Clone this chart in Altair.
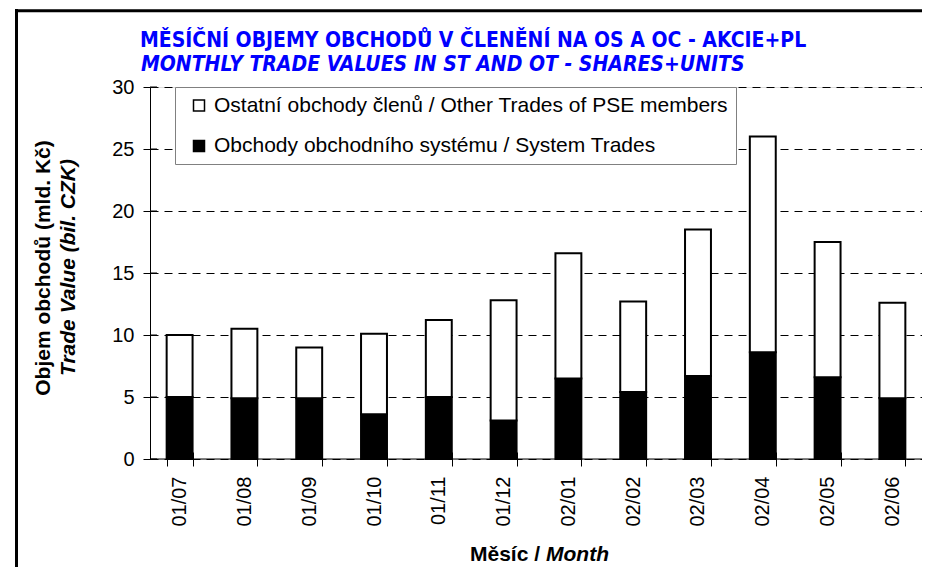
import altair as alt
import pandas as pd

# ---------------- data ----------------
months = ["01/07", "01/08", "01/09", "01/10", "01/11", "01/12",
          "02/01", "02/02", "02/03", "02/04", "02/05", "02/06"]
system_trades = [5.0, 4.9, 4.9, 3.6, 5.0, 3.1, 6.5, 5.4, 6.7, 8.6, 6.6, 4.9]
other_trades = [5.0, 5.6, 4.1, 6.5, 6.2, 9.7, 10.1, 7.3, 11.8, 17.4, 10.9, 7.7]
series_names = ["Ostatní obchody členů / Other Trades of PSE members",
                "Obchody obchodního systému / System Trades"]
series_colors = ["white", "black"]
y_ticks = [0, 5, 10, 15, 20, 25, 30]

title_cz = "MĚSÍČNÍ OBJEMY OBCHODŮ V ČLENĚNÍ NA OS A OC - AKCIE+PL"
title_en = "MONTHLY TRADE VALUES IN ST AND OT - SHARES+UNITS"
ytitle_cz = "Objem obchodů (mld. Kč)"
ytitle_en = "Trade Value (bil. CZK)"
xtitle_cz = "Měsíc /"
xtitle_en = "Month"

rows = []
for m, s, o in zip(months, system_trades, other_trades):
    rows.append({"month": m, "series": series_names[1], "value": s, "ord": 0})
    rows.append({"month": m, "series": series_names[0], "value": o, "ord": 1})
df = pd.DataFrame(rows)
ticks_df = pd.DataFrame({"tick": y_ticks})

FONT = "Liberation Sans"
NARROW = "Liberation Sans Narrow, DejaVu Sans Condensed, Liberation Sans"
W, H = 772, 372

x_scale = alt.Scale(domain=months, paddingInner=0.6, paddingOuter=0.257)
y_scale = alt.Scale(domain=[0, 30], nice=False, zero=True)

bars = alt.Chart(df).mark_bar(stroke="black", strokeWidth=2).encode(
    x=alt.X("month:N", scale=x_scale, sort=months,
            axis=alt.Axis(title=None, labelAngle=-90, labelFontSize=20, labelFont=FONT,
                          labelColor="black", labelPadding=10, tickSize=14, offset=-7,
                          tickColor="black", tickWidth=1, domain=False,
                          tickBand="extent", grid=False)),
    y=alt.Y("value:Q", stack="zero", scale=y_scale,
            axis=alt.Axis(title=None, values=y_ticks, labelFontSize=20, labelFont=FONT,
                          labelColor="black", labelPadding=9, tickSize=7,
                          tickColor="black", domainColor="black", grid=True,
                          gridColor="black", gridDash=[8, 6], gridWidth=1)),
    color=alt.Color("series:N", scale=alt.Scale(domain=series_names, range=series_colors),
                    legend=alt.Legend(orient="none", legendX=25, legendY=0, title=None,
                                      labelFont=FONT, labelFontSize=21, labelColor="black",
                                      labelLimit=900, symbolType="square", symbolSize=121,
                                      symbolStrokeColor="black", symbolStrokeWidth=1.5,
                                      symbolOpacity=1, symbolOffset=5.5, labelOffset=4.5,
                                      padding=8, rowPadding=18.5, strokeColor="#808080",
                                      fillColor="white")),
    order=alt.Order("ord:Q", sort="ascending"),
)

# inward halves of the crossing y ticks
y_inner_ticks = alt.Chart(ticks_df).mark_rule(color="black", strokeWidth=1).encode(
    y=alt.Y("tick:Q", scale=y_scale),
    x=alt.value(0), x2=alt.value(7),
)

one = alt.Data(values=[{}])

# x axis line
x_axis_line = alt.Chart(one).mark_rule(color="black", strokeWidth=1).encode(
    x=alt.value(0), x2=alt.value(W), y=alt.value(H)
)

t1 = alt.Chart(one).mark_text(text=title_cz, align="left", baseline="alphabetic", font=NARROW,
                              fontSize=21, fontWeight="bold", color="#0000ff").encode(
    x=alt.value(-10), y=alt.value(-40))
t2 = alt.Chart(one).mark_text(text=title_en, align="left", baseline="alphabetic", font=NARROW,
                              fontSize=21, fontWeight="bold", fontStyle="italic",
                              color="#0000ff").encode(x=alt.value(-9), y=alt.value(-16))

yt1 = alt.Chart(one).mark_text(text=ytitle_cz, align="center", baseline="middle", angle=270,
                               font=FONT, fontSize=21, fontWeight="bold", color="black").encode(
    x=alt.value(-106), y=alt.value(181))
yt2 = alt.Chart(one).mark_text(text=ytitle_en, align="center", baseline="middle", angle=270,
                               font=FONT, fontSize=21, fontWeight="bold", fontStyle="italic",
                               color="black").encode(x=alt.value(-81), y=alt.value(180.5))

xt1 = alt.Chart(one).mark_text(text=xtitle_cz, align="right", baseline="middle", font=FONT,
                               fontSize=21, fontWeight="bold", color="black").encode(
    x=alt.value(390), y=alt.value(468))
xt2 = alt.Chart(one).mark_text(text=xtitle_en, align="left", baseline="middle", font=FONT,
                               fontSize=21, fontWeight="bold", fontStyle="italic",
                               color="black").encode(x=alt.value(396), y=alt.value(468))

# chart-area frame (thick black top and left edges)
frame_top = alt.Chart(one).mark_rule(color="black", strokeWidth=3).encode(
    x=alt.value(-135), x2=alt.value(W + 5), y=alt.value(-76.3))
frame_left = alt.Chart(one).mark_rule(color="black", strokeWidth=3).encode(
    x=alt.value(-133.5), y=alt.value(-78), y2=alt.value(H + 120))

chart = alt.layer(
    bars, y_inner_ticks, x_axis_line, t1, t2, yt1, yt2, xt1, xt2, frame_top, frame_left
).properties(
    width=W, height=H,
    autosize=alt.AutoSizeParams(type="none"),
    padding={"left": 142, "top": 79, "right": 0, "bottom": 108},
).configure_view(
    stroke="#808080", strokeWidth=1
).configure(background="white")

chart.save("out.html", embed_options={"renderer": "svg", "actions": False})
